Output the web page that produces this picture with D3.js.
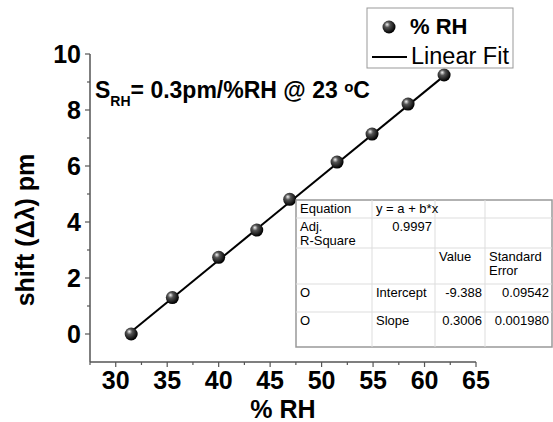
<!DOCTYPE html>
<html>
<head>
<meta charset="utf-8">
<script src="https://cdn.jsdelivr.net/npm/d3@7"></script>
<style>
  body { margin: 0; background: #fff; }
  svg { font-family: "Liberation Sans", Arial, sans-serif; }
  .tick-label { font-size: 25px; font-weight: bold; fill: #000; }
  .tbl { font-size: 13px; fill: #000; }
</style>
</head>
<body>
<svg></svg>
<script>
// shift vs humidity, linear fit
const width = 553;
const height = 422;

const margin = { top: 54, right: 77, bottom: 60, left: 90 };

const svg = d3.select("svg").attr("width", width).attr("height", height);

// datos
const rh = [31.5, 35.5, 40, 43.7, 46.9, 51.5, 54.9, 58.4, 61.9];
const shift = [0, 1.3, 2.74, 3.71, 4.81, 6.14, 7.14, 8.21, 9.25];
const xTicks = [30, 35, 40, 45, 50, 55, 60, 65];
const yTicks = [0, 2, 4, 6, 8, 10];
const intercept = -9.388;
const slope = 0.3006;

// fit table rows
const tableRows = [
  ["Equation", "y = a + b*x", "", ""],
  ["Adj.\nR-Square", "0.9997", "", ""],
  ["", "", "Value", "Standard\nError"],
  ["O", "Intercept", "-9.388", "0.09542"],
  ["O", "Slope", "0.3006", "0.001980"]
];

const x = d3.scaleLinear()
  .domain([27.5, 65])
  .range([margin.left, width - margin.right]);

const y = d3.scaleLinear()
  .domain([-1, 10])
  .range([height - margin.bottom, margin.top]);

// sphere marker
const grad = svg.append("defs").append("radialGradient")
  .attr("id", "ball").attr("cx", "40%").attr("cy", "38%").attr("r", "60%")
  .attr("fx", "35%").attr("fy", "30%");
grad.append("stop").attr("offset", "0%").attr("stop-color", "#f4f4f4");
grad.append("stop").attr("offset", "35%").attr("stop-color", "#555");
grad.append("stop").attr("offset", "100%").attr("stop-color", "#000");

const axisColor = "#555";

// ejeX
const gx = svg.append("g")
  .attr("transform", `translate(0,${height - margin.bottom})`);
gx.append("line")
  .attr("x1", x(27.5)).attr("x2", x(65))
  .attr("stroke", axisColor).attr("stroke-width", 1.5);
gx.selectAll(".minor").data(d3.range(27.5, 65, 5)).join("line")
  .attr("x1", d => x(d)).attr("x2", d => x(d))
  .attr("y1", 0).attr("y2", 3).attr("stroke", axisColor).attr("stroke-width", 1.2);
gx.selectAll(".major").data(xTicks).join("line")
  .attr("x1", d => x(d)).attr("x2", d => x(d))
  .attr("y1", 0).attr("y2", 5).attr("stroke", axisColor).attr("stroke-width", 1.2);
gx.selectAll("text").data(xTicks).join("text")
  .attr("class", "tick-label")
  .attr("x", d => x(d)).attr("y", 27)
  .attr("text-anchor", "middle")
  .text(d => d);

// ejeY
const gy = svg.append("g")
  .attr("transform", `translate(${margin.left},0)`);
gy.append("line")
  .attr("y1", y(-1)).attr("y2", y(10))
  .attr("stroke", axisColor).attr("stroke-width", 1.5);
gy.selectAll(".minor").data(d3.range(1, 10, 2)).join("line")
  .attr("y1", d => y(d)).attr("y2", d => y(d))
  .attr("x1", 0).attr("x2", -3).attr("stroke", axisColor).attr("stroke-width", 1.2);
gy.selectAll(".major").data(yTicks).join("line")
  .attr("y1", d => y(d)).attr("y2", d => y(d))
  .attr("x1", 0).attr("x2", -5).attr("stroke", axisColor).attr("stroke-width", 1.2);
gy.selectAll("text").data(yTicks).join("text")
  .attr("class", "tick-label")
  .attr("x", -9).attr("y", d => y(d) + 9)
  .attr("text-anchor", "end")
  .text(d => d);

// etiqueta x
svg.append("text")
  .attr("x", x(46.25)).attr("y", 418)
  .attr("text-anchor", "middle")
  .attr("class", "tick-label")
  .text("% RH");

// etiqueta y
svg.append("text")
  .attr("transform", "rotate(-90)")
  .attr("x", -230).attr("y", 34)
  .attr("text-anchor", "middle")
  .attr("class", "tick-label")
  .text("shift (Δλ) pm");

// fit line
svg.append("line")
  .attr("x1", x(rh[0])).attr("y1", y(intercept + slope * rh[0]))
  .attr("x2", x(rh[rh.length - 1])).attr("y2", y(intercept + slope * rh[rh.length - 1]))
  .attr("stroke", "#000").attr("stroke-width", 2);

// points
svg.selectAll(".pt").data(rh).join("circle")
  .attr("class", "pt")
  .attr("cx", d => x(d))
  .attr("cy", (d, i) => y(shift[i]))
  .attr("r", 6.5)
  .attr("fill", "url(#ball)");

// sensitivity note
const note = svg.append("text")
  .attr("x", 95).attr("y", 98)
  .attr("font-size", 23).attr("font-weight", "bold");
note.append("tspan").text("S");
note.append("tspan").attr("font-size", 14).attr("dy", 8).text("RH");
note.append("tspan").attr("dy", -8).text("= 0.3pm/%RH @ 23 ");
note.append("tspan").attr("font-size", 15).attr("dy", -6).text("o");
note.append("tspan").attr("dy", 6).text("C");

// legend
const lg = svg.append("g");
lg.append("rect")
  .attr("x", 367).attr("y", 8).attr("width", 146).attr("height", 60)
  .attr("fill", "#fff").attr("stroke", "#999").attr("stroke-width", 1);
lg.append("circle").attr("cx", 389).attr("cy", 27).attr("r", 6.5).attr("fill", "url(#ball)");
lg.append("text").attr("x", 410).attr("y", 34)
  .attr("font-size", 22).attr("font-weight", "bold").text("% RH");
lg.append("line").attr("x1", 372).attr("x2", 407).attr("y1", 57).attr("y2", 57)
  .attr("stroke", "#000").attr("stroke-width", 2);
lg.append("text").attr("x", 411).attr("y", 64)
  .attr("font-size", 23.5).text("Linear Fit");

// table
const tb = svg.append("g");
const colX = [296, 372, 435, 485, 552];
const rowY = [200, 218, 248, 284, 312, 347];
tb.append("rect")
  .attr("x", colX[0]).attr("y", rowY[0])
  .attr("width", colX[4] - colX[0]).attr("height", rowY[5] - rowY[0])
  .attr("fill", "#fff").attr("stroke", "#999").attr("stroke-width", 1.5);
tb.selectAll(".hl").data(rowY.slice(1, 5)).join("line")
  .attr("x1", colX[0]).attr("x2", colX[4])
  .attr("y1", d => d).attr("y2", d => d)
  .attr("stroke", "#ddd");
tb.selectAll(".vl").data(colX.slice(1, 4)).join("line")
  .attr("x1", d => d).attr("x2", d => d)
  .attr("y1", rowY[0]).attr("y2", rowY[5])
  .attr("stroke", "#ddd");

tableRows.forEach((row, r) => {
  row.forEach((cell, c) => {
    if (!cell) return;
    const numeric = /^-?\d/.test(cell);
    const tx = numeric ? colX[c + 1] - 3 : colX[c] + 4;
    cell.split("\n").forEach((ln, k) => {
      tb.append("text").attr("class", "tbl")
        .attr("x", tx)
        .attr("y", rowY[r] + 13 + k * 14)
        .attr("text-anchor", numeric ? "end" : "start")
        .text(ln);
    });
  });
});
</script>
</body>
</html>
